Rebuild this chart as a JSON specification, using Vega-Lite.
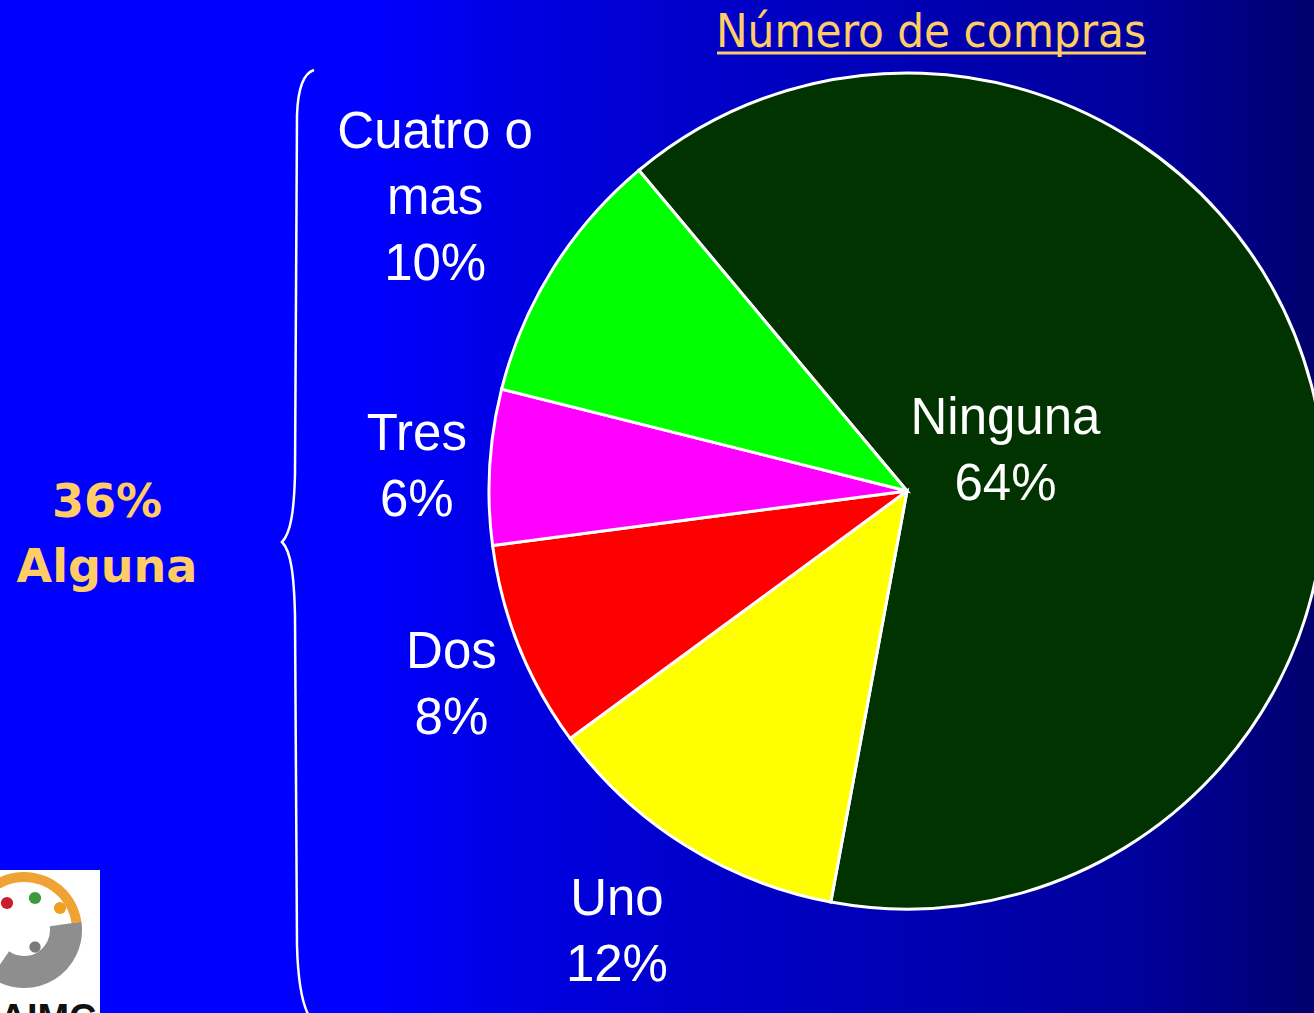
{
  "$schema": "https://vega.github.io/schema/vega-lite/v6.json",
  "width": 1314,
  "height": 1013,
  "padding": 0,
  "autosize": {"type": "none"},
  "background": "#0000ff",
  "config": {"view": {"stroke": null}},
  "datasets": {
    "compras": [
      {"cat": "Ninguna", "pct": 64, "ord": 1, "label": "Ninguna\n64%"},
      {"cat": "Uno", "pct": 12, "ord": 2, "label": "Uno\n12%"},
      {"cat": "Dos", "pct": 8, "ord": 3, "label": "Dos\n8%"},
      {"cat": "Tres", "pct": 6, "ord": 4, "label": "Tres\n6%"},
      {"cat": "Cuatro o mas", "pct": 10, "ord": 5, "label": "Cuatro o\nmas\n10%"}
    ]
  },
  "layer": [
    {
      "data": {"values": [{"bg": "fondo"}]},
      "mark": {
        "type": "rect",
        "fill": {
          "gradient": "linear", "x1": 0, "y1": 0, "x2": 1, "y2": 0,
          "stops": [
            {"offset": 0, "color": "#0000ff"},
            {"offset": 0.28, "color": "#0000ff"},
            {"offset": 0.365, "color": "#0000e8"},
            {"offset": 0.52, "color": "#0000cc"},
            {"offset": 0.875, "color": "#000099"},
            {"offset": 1, "color": "#00006e"}
          ]
        }
      },
      "encoding": {"x": {"value": 0}, "x2": {"value": "width"}, "y": {"value": 0}, "y2": {"value": "height"}}
    },
    {
      "data": {"name": "compras"},
      "mark": {"type": "arc", "outerRadius": 418, "stroke": "#ffffff", "strokeWidth": 3},
      "encoding": {
        "theta": {"field": "pct", "type": "quantitative", "stack": true, "scale": {"range": [5.587, 11.870]}},
        "order": {"field": "ord", "type": "quantitative"},
        "color": {
          "field": "cat", "type": "nominal",
          "scale": {"domain": ["Ninguna", "Uno", "Dos", "Tres", "Cuatro o mas"], "range": ["#003300", "#ffff00", "#ff0000", "#ff00ff", "#00ff00"]},
          "legend": null
        },
        "x": {"value": 907},
        "y": {"value": 491}
      }
    },
    {
      "data": {"name": "compras"},
      "mark": {"type": "text", "radius": 557, "dy": -62, "font": "Liberation Sans", "fontSize": 51, "color": "#ffffff", "lineBreak": "\n", "lineHeight": 66, "align": "center", "baseline": "middle"},
      "encoding": {
        "theta": {"field": "pct", "type": "quantitative", "stack": true},
        "order": {"field": "ord", "type": "quantitative"},
        "detail": {"field": "cat", "type": "nominal"},
        "x": {"value": 907}, "y": {"value": 491},
        "text": {"condition": {"test": "datum.cat === 'Cuatro o mas'", "field": "label"}, "value": ""}
      }
    },
    {
      "data": {"name": "compras"},
      "mark": {"type": "text", "radius": 491, "dy": -28, "font": "Liberation Sans", "fontSize": 51, "color": "#ffffff", "lineBreak": "\n", "lineHeight": 66, "align": "center", "baseline": "middle"},
      "encoding": {
        "theta": {"field": "pct", "type": "quantitative", "stack": true},
        "order": {"field": "ord", "type": "quantitative"},
        "detail": {"field": "cat", "type": "nominal"},
        "x": {"value": 907}, "y": {"value": 491},
        "text": {"condition": {"test": "datum.cat === 'Tres'", "field": "label"}, "value": ""}
      }
    },
    {
      "data": {"name": "compras"},
      "mark": {"type": "text", "radius": 491, "dy": -21, "font": "Liberation Sans", "fontSize": 51, "color": "#ffffff", "lineBreak": "\n", "lineHeight": 66, "align": "center", "baseline": "middle"},
      "encoding": {
        "theta": {"field": "pct", "type": "quantitative", "stack": true},
        "order": {"field": "ord", "type": "quantitative"},
        "detail": {"field": "cat", "type": "nominal"},
        "x": {"value": 907}, "y": {"value": 491},
        "text": {"condition": {"test": "datum.cat === 'Dos'", "field": "label"}, "value": ""}
      }
    },
    {
      "data": {"name": "compras"},
      "mark": {"type": "text", "radius": 527, "dx": -10, "dy": -37, "font": "Liberation Sans", "fontSize": 51, "color": "#ffffff", "lineBreak": "\n", "lineHeight": 66, "align": "center", "baseline": "middle"},
      "encoding": {
        "theta": {"field": "pct", "type": "quantitative", "stack": true},
        "order": {"field": "ord", "type": "quantitative"},
        "detail": {"field": "cat", "type": "nominal"},
        "x": {"value": 907}, "y": {"value": 491},
        "text": {"condition": {"test": "datum.cat === 'Uno'", "field": "label"}, "value": ""}
      }
    },
    {
      "data": {"name": "compras"},
      "mark": {"type": "text", "radius": 108, "dx": -6, "dy": -45, "font": "Liberation Sans", "fontSize": 51, "color": "#ffffff", "lineBreak": "\n", "lineHeight": 66, "align": "center", "baseline": "middle"},
      "encoding": {
        "theta": {"field": "pct", "type": "quantitative", "stack": true},
        "order": {"field": "ord", "type": "quantitative"},
        "detail": {"field": "cat", "type": "nominal"},
        "x": {"value": 907}, "y": {"value": 491},
        "text": {"condition": {"test": "datum.cat === 'Ninguna'", "field": "label"}, "value": ""}
      }
    },
    {
      "data": {"values": [{"t": "Número de compras"}]},
      "mark": {"type": "text", "font": "DejaVu Sans Condensed", "fontSize": 47, "color": "#ffcc66", "align": "center", "baseline": "alphabetic"},
      "encoding": {"text": {"field": "t"}, "x": {"value": 931}, "y": {"value": 47}}
    },
    {
      "data": {"values": [{"u": "subrayado"}]},
      "mark": {"type": "rule", "color": "#ffcc66", "strokeWidth": 3},
      "encoding": {"x": {"value": 717}, "x2": {"value": 1146}, "y": {"value": 53}}
    },
    {
      "data": {"values": [{"t": "36%\nAlguna"}]},
      "mark": {"type": "text", "font": "DejaVu Sans", "fontWeight": "bold", "fontSize": 46, "color": "#ffcc66", "align": "center", "baseline": "alphabetic", "lineBreak": "\n", "lineHeight": 65},
      "encoding": {"text": {"field": "t"}, "x": {"value": 107}, "y": {"value": 517}}
    },
    {
      "data": {"values": [{"b": "llave"}]},
      "mark": {
        "type": "point",
        "shape": "M 14 -475 C 4 -472 -2 -458 -3 -430 L -5 -70 C -6 -35 -9 -12 -18 -3 C -9 6 -6 30 -5 70 L -3 400 C -2 440 4 468 14 478",
        "size": 4, "filled": false, "color": "#ffffff", "strokeWidth": 2.5, "opacity": 1
      },
      "encoding": {"x": {"value": 300}, "y": {"value": 545}}
    },
    {
      "data": {"values": [{"l": "logo"}]},
      "mark": {"type": "rect", "color": "#ffffff"},
      "encoding": {"x": {"value": 0}, "x2": {"value": 100}, "y": {"value": 870}, "y2": {"value": 1013}}
    },
    {
      "data": {"values": [{"l": "anillo"}]},
      "mark": {"type": "arc", "theta": -1.9, "theta2": 1.43, "outerRadius": 58, "innerRadius": 48, "color": "#efa335"},
      "encoding": {"x": {"value": 24}, "y": {"value": 930}}
    },
    {
      "data": {"values": [{"l": "anillo gris"}]},
      "mark": {"type": "arc", "theta": 1.43, "theta2": 3.75, "outerRadius": 58, "innerRadius": 26, "color": "#8e8e8e"},
      "encoding": {"x": {"value": 24}, "y": {"value": 930}}
    },
    {
      "data": {"values": [{"l": "rojo"}]},
      "mark": {"type": "circle", "size": 150, "color": "#c8202a", "opacity": 1},
      "encoding": {"x": {"value": 7}, "y": {"value": 903}}
    },
    {
      "data": {"values": [{"l": "verde"}]},
      "mark": {"type": "circle", "size": 150, "color": "#3d9a3d", "opacity": 1},
      "encoding": {"x": {"value": 35}, "y": {"value": 898}}
    },
    {
      "data": {"values": [{"l": "naranja"}]},
      "mark": {"type": "circle", "size": 150, "color": "#f0a020", "opacity": 1},
      "encoding": {"x": {"value": 60}, "y": {"value": 908}}
    },
    {
      "data": {"values": [{"l": "gris"}]},
      "mark": {"type": "circle", "size": 130, "color": "#7a7a7a", "opacity": 1},
      "encoding": {"x": {"value": 35}, "y": {"value": 947}}
    },
    {
      "data": {"values": [{"t": "AIMC"}]},
      "mark": {"type": "text", "font": "Liberation Sans", "fontWeight": "bold", "fontSize": 38, "color": "#111111", "align": "center", "baseline": "alphabetic"},
      "encoding": {"text": {"field": "t"}, "x": {"value": 48}, "y": {"value": 1031}}
    }
  ]
}
